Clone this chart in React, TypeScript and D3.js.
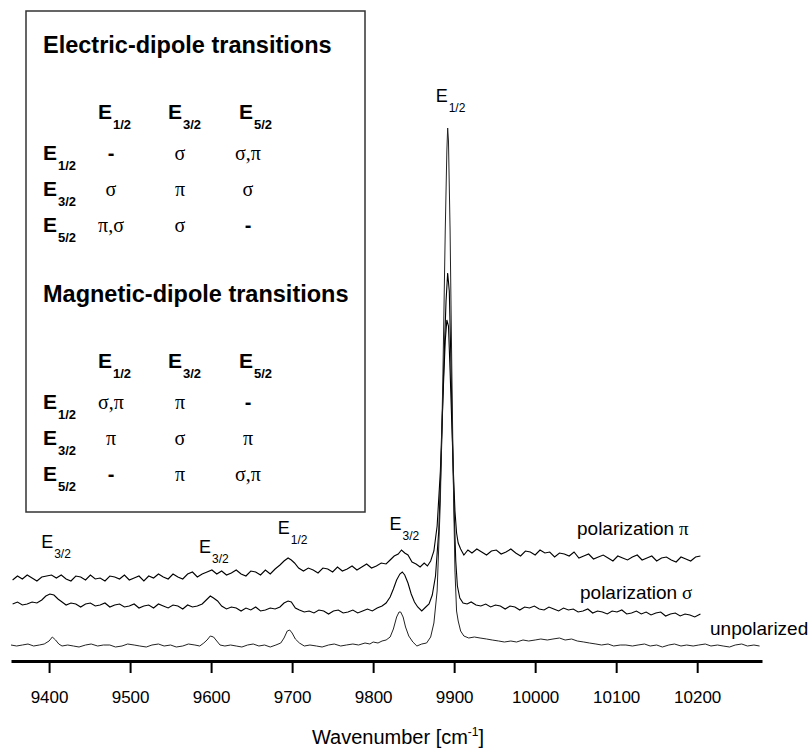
import React, { useEffect, useRef } from 'react';
import * as d3 from 'd3';

// spectra: [wavenumber cm-1, intensity (arb. units, traces already stacked)]
const piTrace: [number, number][] = [
  [9355, 81], [9361, 85], [9367, 82], [9373, 86], [9379, 83], [9385, 80], [9391, 84], [9397, 85], [9403, 86], [9409, 83],
  [9415, 86], [9421, 82], [9427, 80], [9433, 85], [9439, 84], [9445, 81], [9451, 86], [9457, 82], [9463, 83], [9469, 80],
  [9475, 85], [9481, 84], [9487, 82], [9493, 86], [9499, 81], [9505, 83], [9511, 85], [9517, 80], [9523, 85], [9529, 83],
  [9535, 87], [9541, 84], [9547, 82], [9553, 87], [9559, 84], [9565, 82], [9571, 87], [9577, 89], [9583, 84], [9589, 87],
  [9595, 89], [9601, 91], [9607, 87], [9613, 90], [9619, 86], [9625, 88], [9631, 91], [9637, 87], [9643, 85], [9649, 90],
  [9655, 89], [9661, 86], [9667, 91], [9673, 87], [9679, 92], [9685, 96], [9690, 100], [9695, 103], [9699, 101], [9703, 98],
  [9708, 93], [9714, 90], [9720, 93], [9726, 91], [9732, 88], [9738, 93], [9744, 92], [9750, 89], [9756, 94], [9762, 90],
  [9768, 92], [9774, 95], [9780, 91], [9786, 94], [9792, 97], [9798, 93], [9804, 95], [9810, 98], [9816, 97], [9821, 101],
  [9826, 105], [9831, 107], [9835, 111], [9839, 108], [9843, 106], [9848, 99], [9853, 97], [9858, 94], [9863, 98], [9867, 95],
  [9871, 100], [9875, 110], [9879, 135], [9883, 190], [9886, 260], [9889, 320], [9891, 341], [9893, 335], [9895, 290], [9897, 240],
  [9899, 190], [9901, 150], [9903, 128], [9905, 118], [9908, 112], [9912, 106], [9917, 111], [9922, 108], [9928, 112], [9934, 109],
  [9940, 106], [9946, 110], [9952, 111], [9958, 107], [9964, 109], [9970, 112], [9976, 108], [9982, 105], [9988, 110], [9994, 109],
  [10000, 106], [10006, 111], [10012, 108], [10018, 109], [10024, 104], [10030, 108], [10036, 107], [10042, 105], [10048, 109], [10054, 103],
  [10060, 105], [10066, 107], [10072, 102], [10078, 104], [10084, 106], [10090, 103], [10096, 100], [10102, 105], [10108, 103], [10114, 101],
  [10120, 104], [10126, 106], [10132, 101], [10138, 103], [10144, 105], [10150, 100], [10156, 103], [10162, 104], [10168, 101], [10174, 99],
  [10180, 104], [10186, 102], [10192, 100], [10198, 104], [10204, 105],
];

const sigmaTrace: [number, number][] = [
  [9355, 57], [9361, 59], [9367, 56], [9373, 57], [9379, 59], [9385, 58], [9391, 61], [9396, 65], [9401, 67], [9406, 66],
  [9411, 62], [9416, 59], [9421, 56], [9427, 58], [9433, 57], [9439, 54], [9445, 57], [9451, 58], [9457, 55], [9463, 56],
  [9469, 58], [9475, 54], [9481, 56], [9487, 57], [9493, 54], [9499, 55], [9505, 57], [9511, 53], [9517, 55], [9523, 56],
  [9529, 53], [9535, 57], [9541, 55], [9547, 53], [9553, 56], [9559, 55], [9565, 52], [9571, 56], [9577, 54], [9583, 55],
  [9589, 57], [9594, 61], [9599, 65], [9603, 63], [9608, 60], [9613, 55], [9619, 52], [9625, 54], [9631, 53], [9637, 50],
  [9643, 53], [9649, 51], [9655, 54], [9661, 50], [9667, 51], [9673, 53], [9679, 52], [9685, 54], [9690, 58], [9695, 60],
  [9699, 59], [9704, 53], [9709, 51], [9715, 49], [9721, 50], [9727, 48], [9733, 51], [9739, 50], [9745, 47], [9751, 50],
  [9757, 51], [9763, 48], [9769, 49], [9775, 51], [9781, 48], [9787, 50], [9793, 52], [9799, 50], [9805, 53], [9811, 55],
  [9816, 58], [9821, 64], [9825, 72], [9829, 81], [9833, 87], [9836, 89], [9839, 86], [9843, 78], [9847, 67], [9851, 59],
  [9855, 54], [9860, 50], [9865, 54], [9869, 57], [9873, 66], [9877, 85], [9881, 130], [9884, 200], [9887, 290], [9890, 360],
  [9892, 388], [9894, 370], [9896, 300], [9898, 220], [9900, 150], [9902, 100], [9904, 75], [9907, 63], [9911, 58], [9916, 57],
  [9921, 59], [9927, 56], [9933, 55], [9939, 57], [9945, 54], [9951, 56], [9957, 55], [9963, 52], [9969, 55], [9975, 54],
  [9981, 51], [9987, 54], [9993, 53], [9999, 55], [10005, 52], [10011, 51], [10017, 54], [10023, 52], [10029, 50], [10035, 53],
  [10041, 51], [10047, 52], [10053, 49], [10059, 50], [10065, 52], [10071, 48], [10077, 50], [10083, 49], [10089, 47], [10095, 50],
  [10101, 49], [10107, 51], [10113, 47], [10119, 48], [10125, 50], [10131, 47], [10137, 49], [10143, 46], [10149, 48], [10155, 49],
  [10161, 45], [10167, 47], [10173, 48], [10179, 45], [10185, 47], [10191, 46], [10197, 44], [10204, 47],
];

const unpolTrace: [number, number][] = [
  [9353, 16], [9360, 15], [9367, 16], [9374, 17], [9381, 15], [9388, 16], [9394, 17], [9400, 20], [9404, 24], [9408, 21],
  [9412, 17], [9416, 15], [9423, 16], [9430, 15], [9437, 14], [9445, 16], [9452, 17], [9460, 15], [9467, 16], [9475, 16],
  [9482, 14], [9490, 15], [9497, 17], [9505, 16], [9512, 15], [9520, 14], [9527, 16], [9535, 17], [9542, 15], [9550, 16],
  [9557, 14], [9565, 15], [9572, 17], [9580, 16], [9586, 15], [9591, 18], [9595, 21], [9599, 25], [9603, 24], [9607, 20],
  [9611, 16], [9617, 15], [9624, 16], [9631, 15], [9638, 14], [9645, 16], [9652, 17], [9659, 15], [9666, 16], [9673, 14],
  [9680, 16], [9686, 18], [9690, 23], [9694, 30], [9697, 31], [9700, 28], [9704, 22], [9709, 18], [9715, 15], [9722, 16],
  [9730, 15], [9737, 14], [9745, 16], [9752, 17], [9760, 15], [9767, 16], [9775, 17], [9782, 16], [9790, 18], [9796, 17],
  [9800, 19], [9806, 18], [9811, 20], [9816, 21], [9821, 24], [9825, 32], [9829, 44], [9832, 49], [9834, 49], [9837, 44],
  [9840, 34], [9844, 25], [9849, 19], [9854, 15], [9860, 17], [9866, 18], [9871, 24], [9875, 38], [9879, 70], [9883, 160],
  [9886, 280], [9889, 430], [9891, 510], [9892, 533], [9893, 520], [9895, 430], [9897, 300], [9899, 180], [9901, 90], [9903, 50],
  [9905, 40], [9908, 30], [9912, 25], [9918, 23], [9925, 24], [9932, 23], [9940, 22], [9947, 21], [9955, 20], [9962, 19],
  [9970, 20], [9977, 19], [9985, 21], [9992, 20], [10000, 21], [10007, 22], [10015, 21], [10022, 22], [10030, 23], [10037, 21],
  [10045, 22], [10052, 20], [10060, 19], [10067, 18], [10075, 17], [10082, 16], [10090, 17], [10097, 15], [10105, 16], [10112, 16],
  [10120, 15], [10127, 16], [10135, 17], [10142, 15], [10150, 16], [10157, 14], [10165, 16], [10172, 17], [10180, 15], [10187, 16],
  [10195, 15], [10202, 16], [10210, 17], [10217, 15], [10225, 16], [10232, 15], [10240, 14], [10247, 16], [10255, 17], [10262, 15],
  [10270, 16], [10277, 15],
];

const majorTicks = [9400, 9500, 9600, 9700, 9800, 9900, 10000, 10100, 10200];
const minorTicks = [9450, 9550, 9650, 9750, 9850, 9950, 10050, 10150, 10250];

// peak assignments above the spectra (wavenumber, subscript, level in intensity units)
const peakWn = [9405, 9600, 9697, 9835, 9892];
const peakSub = ['3/2', '3/2', '1/2', '3/2', '1/2'];
const peakLevel = [113, 108, 127, 131, 559];

const traceNames = ['polarization π', 'polarization σ', 'unpolarized'];

// selection rules tables
const states = ['1/2', '3/2', '5/2'];
const electric = [['-', 'σ', 'σ,π'], ['σ', 'π', 'σ'], ['π,σ', 'σ', '-']];
const magnetic = [['σ,π', 'π', '-'], ['π', 'σ', 'π'], ['-', 'π', 'σ,π']];

const SANS = "Arial, 'Liberation Sans', sans-serif";
const SERIF = "'Times New Roman', 'Liberation Serif', serif";

const App = () => {
  const ref = useRef<SVGSVGElement>(null);

  useEffect(() => {
    if (!ref.current) return;
    const svg = d3.select(ref.current);
    svg.selectAll('*').remove();

    const x = d3.scaleLinear().domain([9353, 10280]).range([11, 762]);
    const y = d3.scaleLinear().domain([0, 540]).range([661, 121]);

    // subscripted E label
    const eLabel = (g, px, py, sub, size, subSize, weight) => {
      const t = g.append('text')
        .attr('x', px).attr('y', py)
        .style('font-family', SANS)
        .style('font-weight', weight)
        .style('font-size', size + 'px')
        .attr('fill', '#000');
      t.append('tspan').text('E');
      t.append('tspan').attr('dy', subSize * 0.8).attr('dx', 1).style('font-size', subSize + 'px').text(sub);
    };

    // table box
    const tb = svg.append('g');
    tb.append('rect')
      .attr('x', 26).attr('y', 11).attr('width', 339).attr('height', 501)
      .attr('fill', 'none').attr('stroke', '#333').attr('stroke-width', 1.5);

    const colX = [98, 168, 239];
    const cellX = [111, 180, 248];
    const drawTable = (title, rules, top) => {
      tb.append('text')
        .attr('x', 43).attr('y', top)
        .style('font-family', SANS).style('font-weight', 'bold').style('font-size', '23.5px')
        .text(title);
      states.forEach((s, i) => eLabel(tb, colX[i], top + 66, s, 21, 13, 'bold'));
      states.forEach((s, r) => {
        const by = top + 107 + r * 36;
        eLabel(tb, 43, by, s, 21, 13, 'bold');
        rules[r].forEach((v, c) => {
          tb.append('text')
            .attr('x', cellX[c]).attr('y', by)
            .attr('text-anchor', 'middle')
            .style('font-family', v === '-' ? SANS : SERIF)
            .style('font-weight', v === '-' ? 'bold' : 'normal')
            .style('font-size', '20px')
            .text(v);
        });
      });
    };
    drawTable('Electric-dipole transitions', electric, 53);
    drawTable('Magnetic-dipole transitions', magnetic, 302);

    // spectra
    const line = d3.line<[number, number]>().x(d => x(d[0])).y(d => y(d[1]));
    [piTrace, sigmaTrace, unpolTrace].forEach((tr, i) => {
      svg.append('path')
        .datum(tr)
        .attr('d', line)
        .attr('fill', 'none')
        .attr('stroke', i === 2 ? '#222' : '#000')
        .attr('stroke-width', i === 2 ? 1 : 1.1);
    });

    // trace names
    const namePos = [[577, 535], [580, 599], [710, 635]];
    traceNames.forEach((n, i) => {
      const t = svg.append('text')
        .attr('x', namePos[i][0]).attr('y', namePos[i][1])
        .style('font-family', SANS).style('font-size', '19px');
      const parts = n.split(' ');
      t.append('tspan').text(parts[0]);
      if (parts[1]) t.append('tspan').style('font-family', SERIF).text(' ' + parts[1]);
    });

    // peak labels
    peakWn.forEach((w, i) => {
      eLabel(svg, x(w) - 12, y(peakLevel[i]), peakSub[i], 18, 12, 'normal');
    });

    // x axis
    const gx = svg.append('g').attr('transform', 'translate(0,661)');
    gx.call(d3.axisBottom(x).tickValues(minorTicks).tickSize(7).tickSizeOuter(0).tickFormat(() => ''));
    gx.call(d3.axisBottom(x).tickValues(majorTicks).tickSize(12).tickSizeOuter(0).tickPadding(18).tickFormat(d3.format('d')));
    gx.selectAll('.domain').attr('stroke', '#000').attr('stroke-width', 3);
    gx.selectAll('.tick line').attr('stroke', '#000').attr('stroke-width', 2);
    gx.selectAll('.tick text')
      .style('font-family', SANS).style('font-size', '17px').attr('fill', '#000');

    const title = svg.append('text')
      .attr('x', 398).attr('y', 744)
      .attr('text-anchor', 'middle')
      .style('font-family', SANS).style('font-size', '20px');
    title.append('tspan').text('Wavenumber [cm');
    title.append('tspan').attr('dy', -8).style('font-size', '12px').text('-1');
    title.append('tspan').attr('dy', 8).text(']');
  }, []);

  return (
    <svg ref={ref} width={811} height={749} style={{ position: 'absolute', left: 0, top: 0, background: '#fff' }} />
  );
};

export default App;
